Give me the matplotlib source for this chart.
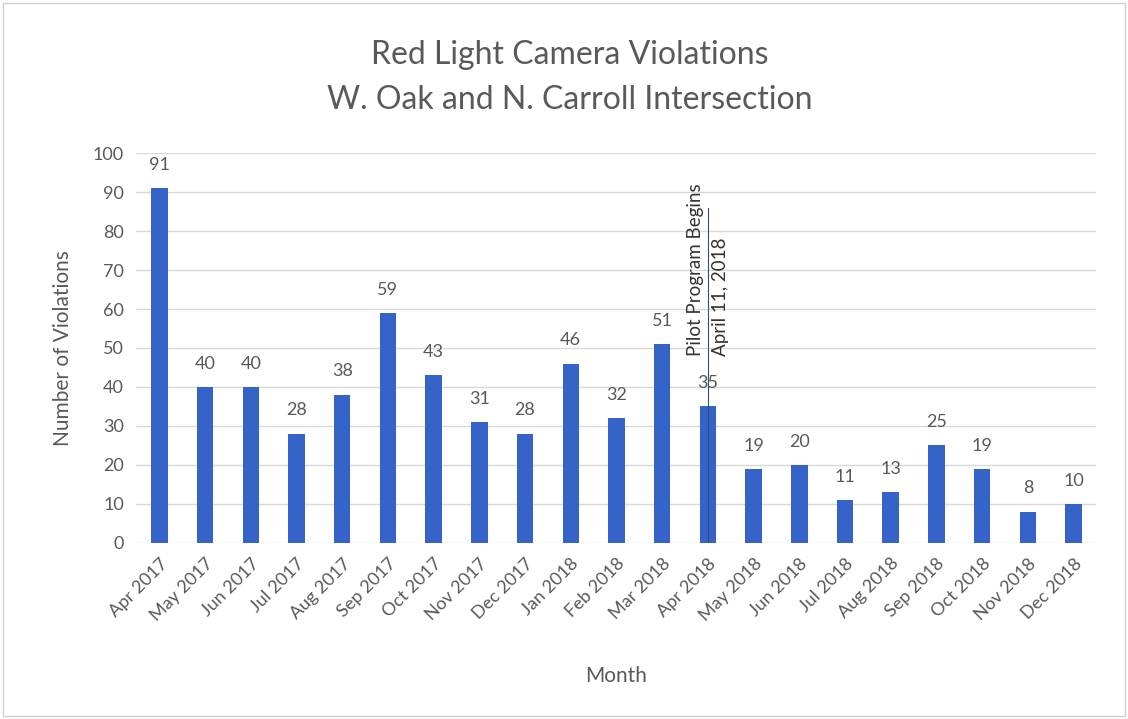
import matplotlib.pyplot as plt
import numpy as np

plt.rcParams["font.family"] = ["Lato", "DejaVu Sans"]

months = [
    "Apr 2017", "May 2017", "Jun 2017", "Jul 2017", "Aug 2017", "Sep 2017",
    "Oct 2017", "Nov 2017", "Dec 2017", "Jan 2018", "Feb 2018", "Mar 2018",
    "Apr 2018", "May 2018", "Jun 2018", "Jul 2018", "Aug 2018", "Sep 2018",
    "Oct 2018", "Nov 2018", "Dec 2018",
]
violations = [91, 40, 40, 28, 38, 59, 43, 31, 28, 46, 32, 51,
              35, 19, 20, 11, 13, 25, 19, 8, 10]
pilot_month = "Apr 2018"

GREY = "#595959"
fig = plt.figure(figsize=(11.28, 7.19), dpi=100)
ax = fig.add_axes([0.121, 0.245, 0.851, 0.542])

x = np.arange(len(months))
ax.bar(x, violations, width=0.36, color="#3563C7", zorder=3)
for xi, v in zip(x, violations):
    ax.annotate(str(v), (xi, v), xytext=(0, 11), textcoords="offset points",
                ha="center", va="bottom", fontsize=13, color=GREY)

ax.set_xlim(-0.5, len(months) - 0.5)
ax.set_ylim(0, 100)
ax.set_yticks(np.arange(0, 101, 10))
ax.set_xticks(x)
ax.set_xticklabels(months, rotation=45, ha="right", rotation_mode="anchor")
ax.tick_params(axis="both", length=0, labelsize=13, colors=GREY, pad=9)
ax.grid(axis="y", color="#d9d9d9", lw=1, zorder=0)
for s in ax.spines.values():
    s.set_visible(False)

ax.set_ylabel("Number of Violations", fontsize=15, color=GREY, labelpad=14)
ax.set_xlabel("Month", fontsize=15, color=GREY, labelpad=30)
fig.text(0.505, 0.892, "Red Light Camera Violations\nW. Oak and N. Carroll Intersection",
         ha="center", va="center", fontsize=23, color=GREY, linespacing=1.6)

# pilot program marker
px = months.index(pilot_month)
ax.plot([px, px], [0, 86], color="#2f4f6f", lw=0.8, zorder=4)
ax.text(px - 0.08, 48, "Pilot Program Begins", rotation=90, ha="right",
        va="bottom", fontsize=13.5, color="#333333")
ax.text(px + 0.08, 48, "April 11, 2018", rotation=90, ha="left",
        va="bottom", fontsize=13.5, color="#333333")

fig.patches.append(plt.Rectangle((0.003, 0.004), 0.994, 0.992,
                                 transform=fig.transFigure, fill=False,
                                 ec="#d0d0d0", lw=1))
fig.savefig("out.png")
